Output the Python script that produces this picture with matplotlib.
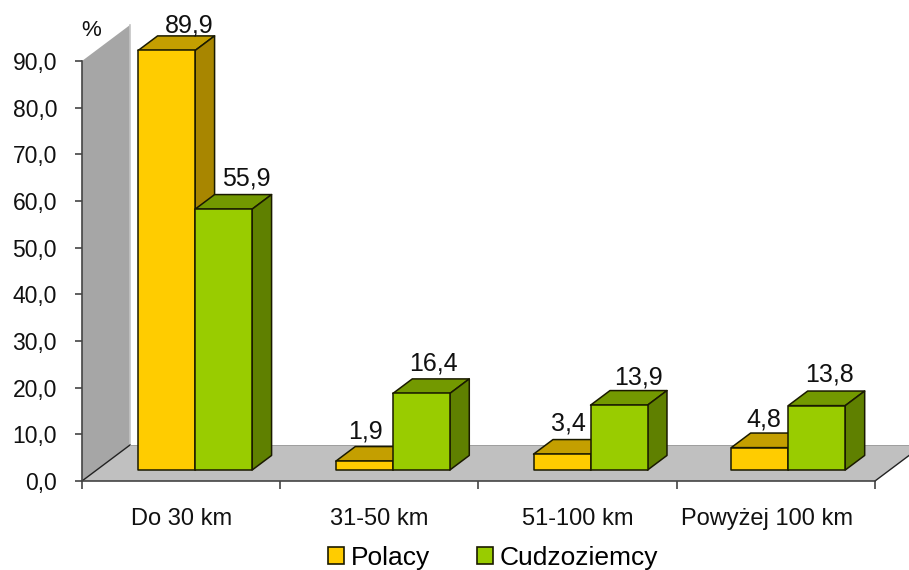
import matplotlib
matplotlib.use('Agg')
import matplotlib.pyplot as plt
from matplotlib.patches import Polygon, Patch

plt.rcParams['font.family'] = ['Liberation Sans', 'DejaVu Sans']

categories = ['Do 30 km', '31-50 km', '51-100 km', 'Powyżej 100 km']
polacy = [89.9, 1.9, 3.4, 4.8]
cudzoziemcy = [55.9, 16.4, 13.9, 13.8]
y_ticks = [0, 10, 20, 30, 40, 50, 60, 70, 80, 90]
series_names = ['Polacy', 'Cudzoziemcy']

# plot box in pixels, the 3d look is an oblique shift of the front plane
W, H = 909, 570
left, right, top, bottom = 82, 875, 61, 481
cat_px = (right - left) / 4
val_px = (bottom - top) / 90
depth_dx = 48 / cat_px
depth_dy = 36 / val_px

bar_width = 57 / cat_px
bar_gap = 41.5 / cat_px
bar_step = 197.7 / cat_px
bar_front = 0.305
bar_back = 0.71

orange = ('#FFCC00', '#C49F00', '#A88600')
green = ('#99CC00', '#739900', '#5F8000')
edge = '#1a1a00'

# label shift in points from the middle of the bar's back top edge
label_shift = {
    'polacy': [(2, -1), (-13.5, 2.5), (-9.5, 3), (-11, 1)],
    'cudzoziemcy': [(2, 3), (-5.5, 2.5), (0, 0.5), (-5, 3)],
}
cat_label_shift = [0, 0, 0, -9]  # last label sits left of its slot, in pixels


def proj(x, y, d):
    return (x + d * depth_dx, y + d * depth_dy)


def draw_bar(ax, x0, value, colors):
    x1 = x0 + bar_width
    f, b = bar_front, bar_back
    sides = [
        ([proj(x0, value, f), proj(x1, value, f), proj(x1, value, b), proj(x0, value, b)], colors[1]),
        ([proj(x1, 0, f), proj(x1, value, f), proj(x1, value, b), proj(x1, 0, b)], colors[2]),
        ([proj(x0, 0, f), proj(x1, 0, f), proj(x1, value, f), proj(x0, value, f)], colors[0]),
    ]
    for pts, c in sides:
        ax.add_patch(Polygon(pts, closed=True, facecolor=c, edgecolor=edge, lw=1.1,
                             joinstyle='round', clip_on=False, zorder=3))


fig = plt.figure(figsize=(W / 100, H / 100), dpi=100)
ax = fig.add_axes([left / W, 1 - bottom / H, (right - left) / W, (bottom - top) / H])
ax.set_xlim(0, 4)
ax.set_ylim(0, 90)
ax.patch.set_visible(False)

# wall and floor
ax.add_patch(Polygon([proj(0, 0, 0), proj(0, 90, 0), proj(0, 90, 1), proj(0, 0, 1)],
                     closed=True, facecolor='#A6A6A6', edgecolor='none', clip_on=False, zorder=1))
ax.add_patch(Polygon([proj(0, 0, 0), proj(4, 0, 0), proj(4, 0, 1), proj(0, 0, 1)],
                     closed=True, facecolor='#C0C0C0', edgecolor='none', clip_on=False, zorder=1))
ax.plot(*zip(proj(0, 0, 1), proj(0, 90, 1)), color='#C4C4C4', lw=1.2, clip_on=False, zorder=1.5)
ax.plot(*zip(proj(0, 0, 0), proj(0, 0, 1)), color='#222222', lw=1, clip_on=False, zorder=2)
ax.plot(*zip(proj(4, 0, 0), proj(4, 0, 1)), color='#222222', lw=1, clip_on=False, zorder=2)
ax.plot(*zip(proj(0, 0, 1), proj(4, 0, 1)), color='#999999', lw=0.6, clip_on=False, zorder=2)

for i in range(len(categories)):
    x_a = i * bar_step + bar_gap
    x_b = x_a + bar_width
    draw_bar(ax, x_a, polacy[i], orange)
    draw_bar(ax, x_b, cudzoziemcy[i], green)
    ax.annotate(f'{polacy[i]:.1f}'.replace('.', ','),
                proj(x_a + bar_width / 2, polacy[i], bar_back),
                xytext=label_shift['polacy'][i], textcoords='offset points',
                ha='center', va='bottom', fontsize=18, color='#111111',
                annotation_clip=False, zorder=4)
    ax.annotate(f'{cudzoziemcy[i]:.1f}'.replace('.', ','),
                proj(x_b + bar_width / 2, cudzoziemcy[i], bar_back),
                xytext=label_shift['cudzoziemcy'][i], textcoords='offset points',
                ha='center', va='bottom', fontsize=18, color='#111111',
                annotation_clip=False, zorder=4)

for s in ['top', 'right']:
    ax.spines[s].set_visible(False)
for s in ['left', 'bottom']:
    ax.spines[s].set_color('#444444')
    ax.spines[s].set_linewidth(1.2)
    ax.spines[s].set_zorder(2)

ax.set_yticks(y_ticks)
ax.set_yticklabels([f'{v:.1f}'.replace('.', ',') for v in y_ticks], fontsize=16.5, color='#111111')
ax.tick_params(axis='y', length=5, width=1.2, color='#444444', pad=13)
ax.set_xticks(range(5))
ax.set_xticklabels([])
ax.tick_params(axis='x', length=6, width=1.2, color='#444444')

# category names go through the axis transform with a small pixel nudge
for i, name in enumerate(categories):
    ax.annotate(name, (i + 0.5, 0), xytext=(cat_label_shift[i] * 0.72, -27.5),
                textcoords='offset points', ha='center', va='center',
                fontsize=17, color='#111111', annotation_clip=False)

fig.text(91 / W, 1 - 30 / H, '%', fontsize=16, ha='center', va='center', color='#111111')

handles = [Patch(facecolor=orange[0], edgecolor=edge, lw=1.2),
           Patch(facecolor=green[0], edgecolor=edge, lw=1.2)]
fig.legend(handles, series_names, ncol=2, frameon=False, fontsize=19,
           loc='lower left', bbox_to_anchor=(328 / W, 0 / H), borderpad=0, borderaxespad=0,
           handlelength=0.6, handleheight=0.6, handletextpad=0.25, columnspacing=1.8)

fig.savefig('out.png', dpi=100)
